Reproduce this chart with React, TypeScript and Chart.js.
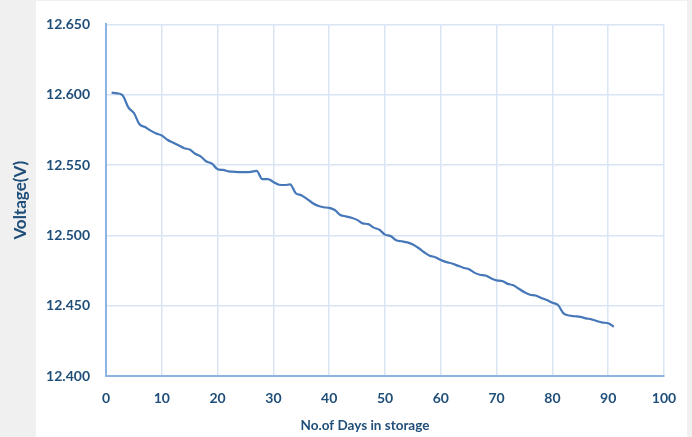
import React, { useEffect, useRef } from "react";
import { Chart, registerables } from "chart.js";

Chart.register(...registerables);

const days: number[] = Array.from({ length: 91 }, (_, i) => i + 1);
const voltage: number[] = [
  12.6015, 12.601, 12.5995, 12.591, 12.587, 12.579, 12.577, 12.5745, 12.5725, 12.571,
  12.568, 12.566, 12.564, 12.562, 12.561, 12.558, 12.556, 12.5525, 12.551, 12.547,
  12.5465, 12.5455, 12.5452, 12.545, 12.545, 12.5452, 12.5458, 12.540, 12.540, 12.538,
  12.536, 12.5358, 12.5362, 12.530, 12.5285, 12.526, 12.523, 12.521, 12.520, 12.5195,
  12.518, 12.5145, 12.5135, 12.5125, 12.511, 12.5085, 12.508, 12.5055, 12.504, 12.5005,
  12.4995, 12.4965, 12.4958, 12.495, 12.4935, 12.491, 12.488, 12.4855, 12.4845, 12.4825,
  12.481, 12.480, 12.4785, 12.477, 12.476, 12.4735, 12.472, 12.4715, 12.4695, 12.468,
  12.4675, 12.4655, 12.4645, 12.462, 12.4595, 12.4578, 12.4572, 12.4555, 12.454, 12.452,
  12.4505, 12.4445, 12.443, 12.4425, 12.442, 12.441, 12.4403, 12.439, 12.438, 12.4375,
  12.435,
];
const xTitle = "No.of Days in storage";
const yTitle = "Voltage(V)";

const TEXT = "#1f4e79";
const FONT = "Lato, 'Liberation Sans', sans-serif";

const bgPlugin = {
  id: "bg",
  beforeDraw(chart: any) {
    const { ctx, width, height } = chart;
    ctx.save();
    ctx.fillStyle = "#f0f0f0";
    ctx.fillRect(0, 0, width, height);
    ctx.fillStyle = "#ffffff";
    ctx.fillRect(36, 1, 651, height - 1);
    ctx.restore();
  },
};

const xTitlePlugin = {
  id: "xTitle",
  afterDraw(chart: any) {
    const { ctx } = chart;
    ctx.save();
    ctx.font = `bold 13.5px ${FONT}`;
    ctx.fillStyle = TEXT;
    ctx.textAlign = "center";
    ctx.textBaseline = "middle";
    ctx.fillText(xTitle, 365, 426);
    ctx.restore();
  },
};

export default function App() {
  const ref = useRef<HTMLCanvasElement>(null);
  useEffect(() => {
    if (!ref.current) return;
    const chart = new Chart(ref.current, {
      type: "line",
      data: {
        datasets: [
          {
            data: days.map((d, i) => ({ x: d, y: voltage[i] })),
            borderColor: "#4677b8",
            borderWidth: 2.2,
            pointRadius: 0,
            tension: 0.4,
            cubicInterpolationMode: "monotone",
            fill: false,
          },
        ],
      },
      options: {
        animation: false,
        responsive: false,
        devicePixelRatio: 1,
        layout: { padding: { top: 22, right: 28, left: 0, bottom: 0 } },
        plugins: { legend: { display: false }, tooltip: { enabled: false } },
        scales: {
          x: {
            type: "linear",
            min: 0,
            max: 100,
            ticks: {
              stepSize: 10,
              padding: 14,
              color: TEXT,
              font: { family: FONT, size: 14, weight: "bold" },
            },
            grid: { color: "#d9e5f4", lineWidth: 1.5, drawTicks: false },
            border: { color: "#8eb4e3", width: 2 },
            afterFit(scale: any) {
              scale.height = 61;
            },
          },
          y: {
            min: 12.4,
            max: 12.65,
            ticks: {
              stepSize: 0.05,
              padding: 16,
              color: TEXT,
              font: { family: FONT, size: 14, weight: "bold" },
              callback: (v: any) => Number(v).toFixed(3),
            },
            grid: { color: "#d9e5f4", lineWidth: 1.5, drawTicks: false },
            border: { color: "#8eb4e3", width: 2 },
            title: {
              display: true,
              text: yTitle,
              color: TEXT,
              font: { family: FONT, size: 17, weight: "bold" },
              padding: { top: 10, bottom: 0 },
            },
            afterFit(scale: any) {
              scale.width = 106;
            },
          },
        },
      },
      plugins: [bgPlugin, xTitlePlugin],
    } as any);
    return () => chart.destroy();
  }, []);
  return (
    <div style={{ position: "absolute", left: 0, top: 0, width: 692, height: 437 }}>
      <canvas ref={ref} width={692} height={437} />
    </div>
  );
}
